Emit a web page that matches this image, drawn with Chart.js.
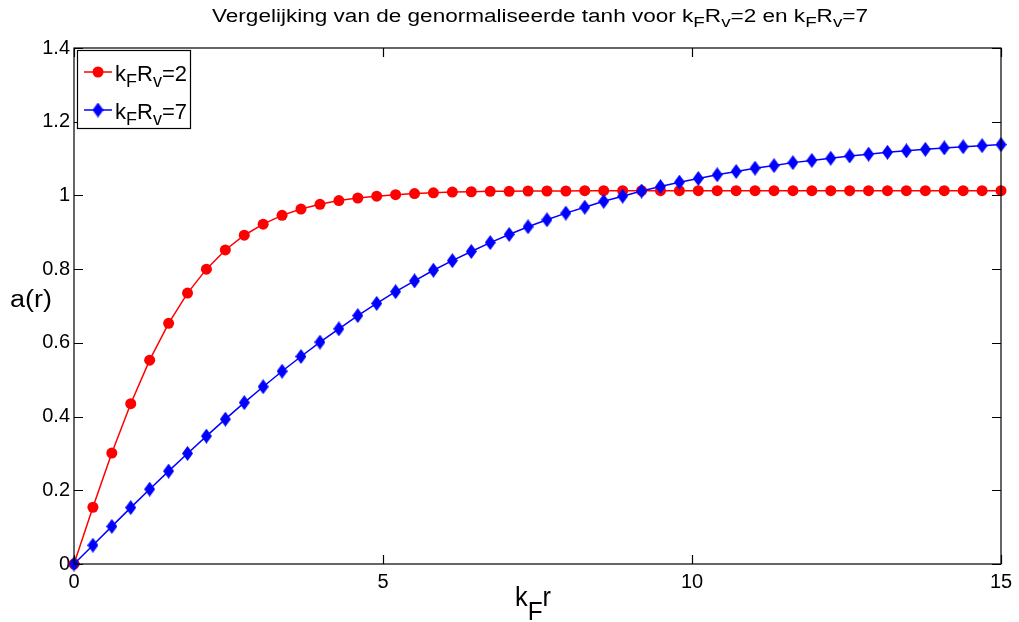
<!DOCTYPE html>
<html><head><meta charset="utf-8">
<script src="https://cdn.jsdelivr.net/npm/chart.js@4/dist/chart.umd.min.js"></script>
<style>html,body{margin:0;padding:0;background:#fff;}#wrap{width:1019px;height:622px;}</style>
</head><body><div id="wrap"><canvas id="c" width="1019" height="622"></canvas></div>
<script>
const xValues = [0, 0.306, 0.612, 0.918, 1.224, 1.531, 1.837, 2.143, 2.449, 2.755, 3.061, 3.367, 3.673, 3.980, 4.286, 4.592, 4.898, 5.204, 5.510, 5.816, 6.122, 6.429, 6.735, 7.041, 7.347, 7.653, 7.959, 8.265, 8.571, 8.878, 9.184, 9.490, 9.796, 10.102, 10.408, 10.714, 11.020, 11.327, 11.633, 11.939, 12.245, 12.551, 12.857, 13.163, 13.469, 13.776, 14.082, 14.388, 14.694, 15];
const redValues = [0, 0.154, 0.301, 0.435, 0.553, 0.653, 0.735, 0.800, 0.852, 0.892, 0.922, 0.946, 0.963, 0.976, 0.986, 0.993, 0.998, 1.002, 1.005, 1.007, 1.009, 1.010, 1.011, 1.011, 1.012, 1.012, 1.012, 1.013, 1.013, 1.013, 1.013, 1.013, 1.013, 1.013, 1.013, 1.013, 1.013, 1.013, 1.013, 1.013, 1.013, 1.013, 1.013, 1.013, 1.013, 1.013, 1.013, 1.013, 1.013, 1.013];
const blueValues = [0, 0.051, 0.102, 0.153, 0.203, 0.252, 0.300, 0.347, 0.393, 0.438, 0.481, 0.523, 0.563, 0.602, 0.638, 0.674, 0.707, 0.739, 0.768, 0.797, 0.823, 0.848, 0.872, 0.894, 0.915, 0.934, 0.952, 0.968, 0.984, 0.998, 1.012, 1.024, 1.036, 1.046, 1.056, 1.065, 1.074, 1.081, 1.089, 1.095, 1.101, 1.107, 1.112, 1.117, 1.121, 1.125, 1.129, 1.132, 1.135, 1.138];
const xTicks = [0, 5, 10, 15];
const yTicks = [0, 0.2, 0.4, 0.6, 0.8, 1, 1.2, 1.4];
const seriesNames = [
  [{t:'k'},{t:'F',sub:true},{t:'R'},{t:'v',sub:true},{t:'=2'}],
  [{t:'k'},{t:'F',sub:true},{t:'R'},{t:'v',sub:true},{t:'=7'}]
];
const titleParts = [{t:'Vergelijking van de genormaliseerde tanh voor k'},{t:'F',sub:true},{t:'R'},{t:'v',sub:true},{t:'=2 en k'},{t:'F',sub:true},{t:'R'},{t:'v',sub:true},{t:'=7'}];
const xLabelParts = [{t:'k'},{t:'F',sub:true},{t:'r'}];
const yLabelParts = [{t:'a(r)'}];

const FONT = '"Liberation Sans", Arial, sans-serif';

function makeDiamond(color){
  const c = document.createElement('canvas');
  c.width = 11; c.height = 15;
  const g = c.getContext('2d');
  g.fillStyle = color;
  g.beginPath();
  g.moveTo(5.5,0); g.lineTo(11,7.5); g.lineTo(5.5,15); g.lineTo(0,7.5); g.closePath();
  g.fill();
  return c;
}
const diamond = makeDiamond('#0000ff');

function richWidth(ctx, parts, st){
  let w = 0;
  for (const p of parts){
    ctx.font = (p.sub ? st.subSize : st.size) + 'px ' + FONT;
    w += ctx.measureText(p.t).width;
  }
  return w;
}
function drawRich(ctx, parts, x, y, st, align, targetW){
  const w = richWidth(ctx, parts, st);
  const sx = targetW ? targetW / w : 1;
  const tw = w * sx;
  const x0 = align === 'center' ? x - tw/2 : x;
  ctx.save();
  ctx.translate(x0, y);
  ctx.scale(sx, 1);
  ctx.fillStyle = '#000';
  ctx.textBaseline = 'alphabetic';
  ctx.textAlign = 'left';
  let cx = 0;
  for (const p of parts){
    ctx.font = (p.sub ? st.subSize : st.size) + 'px ' + FONT;
    ctx.fillText(p.t, cx, p.sub ? st.subDy : 0);
    cx += ctx.measureText(p.t).width;
  }
  ctx.restore();
}

const decor = {
  id: 'decor',
  afterDraw(chart){
    const ctx = chart.ctx;
    const a = chart.chartArea;
    const xs = chart.scales.x, ys = chart.scales.y;
    ctx.save();
    ctx.strokeStyle = '#000';
    ctx.lineWidth = 1.2;
    ctx.strokeRect(a.left, a.top, a.right - a.left, a.bottom - a.top);
    const tl = 9;
    ctx.beginPath();
    for (const v of xTicks){
      const px = Math.round(xs.getPixelForValue(v)) + 0.5;
      ctx.moveTo(px, a.bottom); ctx.lineTo(px, a.bottom - tl);
      ctx.moveTo(px, a.top); ctx.lineTo(px, a.top + tl);
    }
    for (const v of yTicks){
      const py = Math.round(ys.getPixelForValue(v)) + 0.5;
      ctx.moveTo(a.left, py); ctx.lineTo(a.left + tl, py);
      ctx.moveTo(a.right, py); ctx.lineTo(a.right - tl, py);
    }
    ctx.stroke();
    drawRich(ctx, titleParts, 540, 22, {size:18, subSize:15, subDy:5}, 'center', 656);
    drawRich(ctx, xLabelParts, 533, 606, {size:27, subSize:26, subDy:14}, 'center', 36);
    drawRich(ctx, yLabelParts, 10, 307, {size:23, subSize:23, subDy:0}, 'left', 42);
    const lx = 77, ly = 50, lw = 113, lh = 78;
    ctx.fillStyle = '#fff';
    ctx.fillRect(lx, ly, lw, lh);
    ctx.strokeStyle = '#000';
    ctx.lineWidth = 1.2;
    ctx.strokeRect(lx + 0.5, ly + 0.5, lw, lh);
    const rows = [72, 110];
    const colors = ['#ff0000', '#0000ff'];
    for (let i = 0; i < 2; i++){
      const yy = rows[i];
      ctx.strokeStyle = colors[i];
      ctx.lineWidth = 1.5;
      ctx.beginPath(); ctx.moveTo(84, yy); ctx.lineTo(112, yy); ctx.stroke();
      if (i === 0){
        ctx.fillStyle = colors[i];
        ctx.beginPath(); ctx.arc(98, yy, 5.5, 0, Math.PI*2); ctx.fill();
      } else {
        ctx.drawImage(diamond, 98 - 5.5, yy - 7.5);
      }
      drawRich(ctx, seriesNames[i], 115, yy + 9, {size:22, subSize:18, subDy:6}, 'left', 72);
    }
    ctx.restore();
  }
};

new Chart(document.getElementById('c'), {
  type: 'line',
  data: {
    datasets: [
      {
        label: 'kFRv=2', order: 1,
        data: xValues.map((x, i) => ({x: x, y: redValues[i]})),
        borderColor: '#ff0000', backgroundColor: '#ff0000',
        borderWidth: 1.5, pointStyle: 'circle', pointRadius: 5.5,
        pointBorderWidth: 0, pointHoverRadius: 5.5, tension: 0, clip: false
      },
      {
        label: 'kFRv=7', order: 0,
        data: xValues.map((x, i) => ({x: x, y: blueValues[i]})),
        borderColor: '#0000ff', backgroundColor: '#0000ff',
        borderWidth: 1.5, pointStyle: diamond, pointRadius: 6,
        tension: 0, clip: false
      }
    ]
  },
  options: {
    responsive: false, animation: false, devicePixelRatio: 1,
    layout: { padding: { top: 48, right: 18, left: 0, bottom: 0 } },
    plugins: { legend: { display: false }, title: { display: false }, tooltip: { enabled: false } },
    scales: {
      x: {
        type: 'linear', min: 0, max: 15,
        afterBuildTicks: s => { s.ticks = xTicks.map(v => ({value: v})); },
        afterFit: s => { s.height = 58; },
        grid: { display: false, drawTicks: false },
        border: { display: false },
        ticks: { color: '#000', padding: 6, font: { family: FONT, size: 20 }, maxRotation: 0, callback: v => String(v) }
      },
      y: {
        type: 'linear', min: 0, max: 1.4,
        afterBuildTicks: s => { s.ticks = yTicks.map(v => ({value: v})); },
        afterFit: s => { s.width = 74; },
        grid: { display: false, drawTicks: false },
        border: { display: false },
        ticks: { color: '#000', padding: 4, font: { family: FONT, size: 20 }, callback: v => String(+v.toFixed(1)) }
      }
    }
  },
  plugins: [decor]
});
</script>
</body></html>
